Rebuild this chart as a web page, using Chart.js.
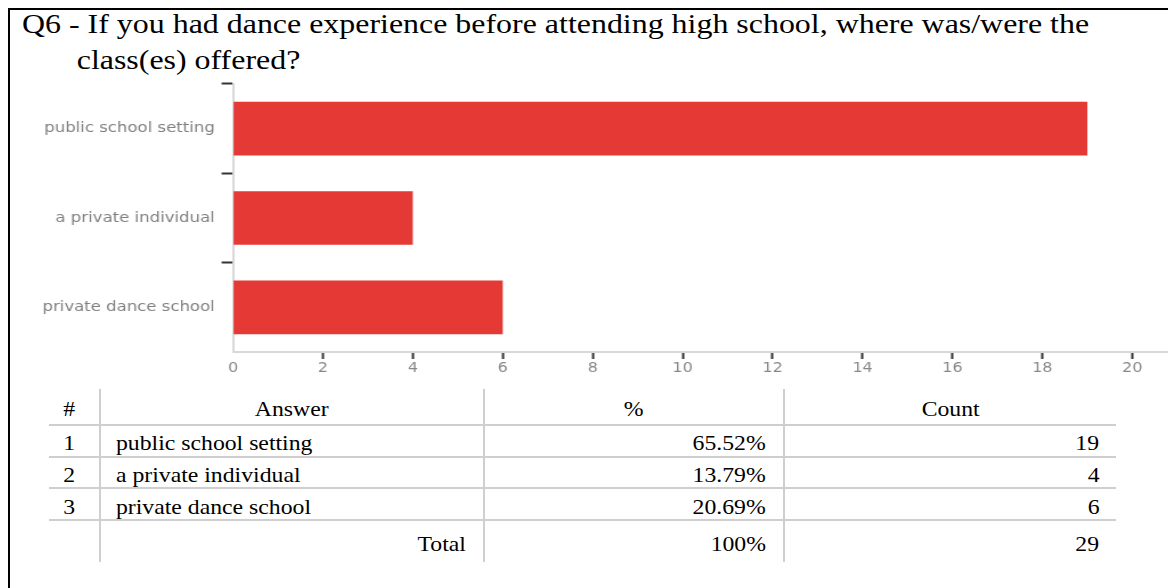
<!DOCTYPE html>
<html>
<head>
<meta charset="utf-8">
<script src="https://cdn.jsdelivr.net/npm/chart.js@4/dist/chart.umd.min.js"></script>
<style>
  html, body { margin: 0; padding: 0; background: #fff; overflow: hidden; }
  body { width: 1168px; height: 588px; position: relative; }
  .frame {
    position: absolute; left: 8px; top: 8px; width: 1300px; height: 700px;
    border: 2px solid #000; box-sizing: border-box;
  }
  /* the whole report is laid out a bit wide, so text and chart get a horizontal stretch */
  .question {
    position: absolute; left: 22px; top: 6px; white-space: nowrap;
    font-family: "Liberation Serif", "Times New Roman", serif;
    font-size: 28px; line-height: 36px; color: #000;
    transform: scaleX(1.14); transform-origin: left top;
  }
  .question .second { padding-left: 48px; }
  .chart-wrap {
    position: absolute; left: 10px; top: 74px; width: 1016px; height: 308px;
    transform: scaleX(1.14); transform-origin: left top;
  }
  table.results {
    position: absolute; left: 49px; top: 389px; width: 1067px;
    border-collapse: collapse; table-layout: fixed;
    font-family: "Liberation Serif", "Times New Roman", serif;
    font-size: 21px; color: #000;
  }
  table.results td, table.results th { padding: 0 15px; font-weight: normal; white-space: nowrap; }
  table.results th { height: 35px; text-align: center; }
  table.results td { height: 29.7px; }
  table.results tr.total td { height: 41px; }
  table.results tr:not(.total) td, table.results th { border-bottom: 2px solid #cfcfcf; }
  table.results .sep { border-left: 2px solid #cfcfcf; }
  table.results .num { text-align: center; padding: 0 10px 0 0; }
  table.results .right { text-align: right; padding-right: 17px; }
  table.results span {
    display: inline-block; position: relative; top: 3px;
    transform: scaleX(1.13); transform-origin: left center;
  }
  table.results .right span { transform-origin: right center; }
  table.results .num span, table.results th span { transform-origin: center center; }
</style>
</head>
<body>
<div class="frame"></div>
<div class="question">
  <div>Q6 - If you had dance experience before attending high school, where was/were the</div>
  <div class="second">class(es) offered?</div>
</div>
<div class="chart-wrap"><canvas id="chart"></canvas></div>
<table class="results" id="results"></table>
<script>
const answers = ['public school setting', 'a private individual', 'private dance school'];
const counts = [19, 4, 6];
const percents = ['65.52%', '13.79%', '20.69%'];
const totalLabel = 'Total';
const totalPercent = '100%';
const totalCount = 29;
const xTicks = [0, 2, 4, 6, 8, 10, 12, 14, 16, 18, 20];

// results table under the chart
const cell = (cls, text) => '<td class="' + cls + '"><span>' + text + '</span></td>';
const table = document.getElementById('results');
let html = '<colgroup><col style="width:51px"><col style="width:384px"><col style="width:300px"><col style="width:332px"></colgroup>';
html += '<tr><th class="num"><span>#</span></th><th class="sep"><span>Answer</span></th>' +
  '<th class="sep"><span>%</span></th><th class="sep"><span>Count</span></th></tr>';
answers.forEach((a, i) => {
  html += '<tr>' + cell('num', i + 1) + cell('sep', a) + cell('sep right', percents[i]) +
    cell('sep right', counts[i]) + '</tr>';
});
html += '<tr class="total"><td></td>' + cell('sep right', totalLabel) + cell('sep right', totalPercent) +
  cell('sep right', totalCount) + '</tr>';
table.innerHTML = html;

const AXIS_LEFT = 195.6; // y axis width inside the canvas
const AXIS_BOTTOM = 30;  // x axis height inside the canvas

new Chart(document.getElementById('chart'), {
  type: 'bar',
  data: {
    labels: answers,
    datasets: [{
      data: counts,
      backgroundColor: '#e53935',
      borderWidth: 0,
      barPercentage: 0.6,
      categoryPercentage: 1.0
    }]
  },
  options: {
    indexAxis: 'y',
    responsive: true,
    maintainAspectRatio: false,
    animation: false,
    layout: { padding: { top: 10, right: 0, left: 0, bottom: 0 } },
    plugins: { legend: { display: false }, tooltip: { enabled: false } },
    scales: {
      x: {
        min: 0,
        max: 20.8,
        afterBuildTicks: (scale) => { scale.ticks = xTicks.map(v => ({ value: v })); },
        afterFit: (scale) => {
          scale.height = AXIS_BOTTOM;
          scale.paddingLeft = 0;
          scale.paddingRight = 0;
        },
        ticks: {
          color: '#888',
          padding: 1,
          font: { family: '"DejaVu Sans", sans-serif', size: 14 }
        },
        grid: {
          drawOnChartArea: false,
          tickLength: 7,
          tickWidth: 2,
          tickColor: (c) => (c.tick && c.tick.value === 0) ? 'transparent' : '#333'
        },
        border: { color: '#d8d8d8', width: 2 }
      },
      y: {
        afterFit: (scale) => {
          scale.width = AXIS_LEFT;
          scale.paddingTop = 0;
          scale.paddingBottom = 0;
        },
        ticks: {
          color: '#808080',
          padding: 6,
          font: { family: '"DejaVu Sans", sans-serif', size: 14.5 }
        },
        grid: {
          drawOnChartArea: false,
          tickLength: 10,
          tickWidth: 2,
          tickColor: (c) => c.type === 'tick' ? '#333' : 'transparent'
        },
        border: { color: '#d8d8d8', width: 2 }
      }
    }
  }
});
</script>
</body>
</html>
